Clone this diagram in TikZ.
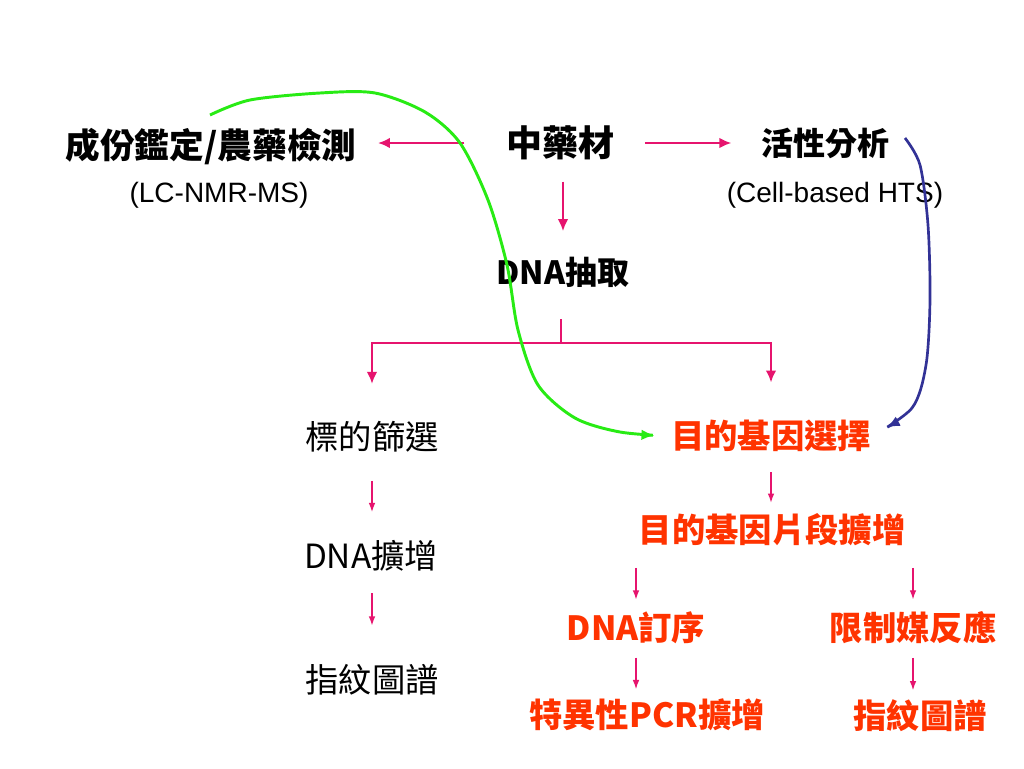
\documentclass[tikz,border=0pt]{standalone}
\usepackage{fontspec}
\usepackage{tikz}
\usetikzlibrary{arrows,arrows.meta,positioning,calc}
\setmainfont{Liberation Sans}
\newfontfamily\cjk{Noto Sans CJK TC}
\definecolor{arrowpink}{RGB}{230, 20, 110}
\definecolor{genered}{RGB}{255, 51, 0}
\definecolor{curvegreen}{RGB}{40, 235, 20}
\definecolor{curveblue}{RGB}{50, 50, 150}

\tikzset{
  bigarrow/.style={draw=arrowpink, line width=2.2pt, -{Latex[length=9pt,width=8pt]}},
  branchline/.style={draw=arrowpink, line width=2.2pt},
  smallarrow/.style={draw=arrowpink, line width=1.1pt, -{Latex[length=7pt,width=5pt]}},
  blacktxt/.style={inner sep=0pt, font=\cjk\fontsize{25}{28}\selectfont},
  boldtxt/.style={inner sep=0pt, font=\cjk\bfseries\fontsize{24}{28}\selectfont},
  redtxt/.style={inner sep=0pt, text=genered, font=\cjk\bfseries\fontsize{25}{28}\selectfont},
  methodtxt/.style={inner sep=0pt, font=\fontsize{21}{24}\selectfont},
  linkcurve/.style={line width=2.2pt, -{Latex[length=10pt,width=8pt]}},
}

\begin{document}
\begin{tikzpicture}[x=0.75pt, y=-0.75pt]
    \useasboundingbox[fill=white] (0,0) rectangle (1024,768);
    % top row
    \node[boldtxt, font=\cjk\bfseries\fontsize{27}{30}\selectfont] (herb) at (560,143) {中藥材};
    \node[boldtxt, font=\cjk\bfseries\fontsize{26}{30}\selectfont] (ident) at (211,147) {成份鑑定/農藥檢測};
    \node[methodtxt] (lcnmr) at (219,195) {(LC-NMR-MS)};
    \node[boldtxt] (activity) at (825,143) {活性分析};
    \node[methodtxt] (hts) at (835,195) {(Cell-based HTS)};
    \node[boldtxt] (extract) at (563,272) {DNA抽取};
    % left column
    \node[blacktxt] (screen) at (372,437) {標的篩選};
    \node[blacktxt] (dnaamp) at (371,556) {DNA擴增};
    \node[blacktxt] (printl) at (372,680) {指紋圖譜};
    % right column
    \node[redtxt] (select) at (771,436) {目的基因選擇};
    \node[redtxt] (fragamp) at (772,530) {目的基因片段擴增};
    \node[redtxt] (seq) at (636,628) {DNA訂序};
    \node[redtxt] (restr) at (913,628) {限制媒反應};
    \node[redtxt] (pcr) at (647,715) {特異性PCR擴增};
    \node[redtxt] (printr) at (920,716) {指紋圖譜};

    % main arrows
    \draw[bigarrow, shorten <=31pt, shorten >=16pt] (herb.west) -- (herb.west -| ident.east);
    \draw[bigarrow, shorten <=23pt, shorten >=22pt] (herb.east) -- (activity.west);
    \draw[bigarrow, shorten <=16pt, shorten >=19pt] (herb.south -| extract) -- (extract.north);
    \coordinate (fork) at (561,343);
    \draw[branchline, shorten <=24pt] (fork |- extract.south) -- (fork);
    \draw[bigarrow, shorten >=28pt] (fork) -| (screen.north);
    \draw[bigarrow, shorten >=28pt] (fork) -| (select.north);

    % small arrows
    \draw[smallarrow, shorten <=21pt, shorten >=21pt] (screen.south) -- (dnaamp.north -| screen);
    \draw[smallarrow, shorten <=16pt, shorten >=29pt] (dnaamp.south -| screen) -- (printl.north -| screen);
    \draw[smallarrow, shorten <=15pt, shorten >=8pt] (select.south) -- (fragamp.north -| select);
    \draw[smallarrow, shorten <=16pt, shorten >=9pt] (seq |- fragamp.south) -- (seq.north);
    \draw[smallarrow, shorten <=16pt, shorten >=9pt] (restr |- fragamp.south) -- (restr.north);
    \draw[smallarrow, shorten <=10pt, shorten >=7pt] (seq.south) -- (seq.south |- pcr.north);
    \draw[smallarrow, shorten <=10pt, shorten >=7pt] (restr.south) -- (restr.south |- printr.north);

    % curved links
    \coordinate (gstart) at (210,115);
    \coordinate (bstart) at (905,138);
    \draw[linkcurve, curvegreen, shorten >=12pt] plot[smooth] coordinates {(gstart) (250,100) (320,93) (375,93) (425,112) (460,143) (488,200) (507,265) (518,330) (538,385) (575,418) (620,432) (select.west)};
    \draw[linkcurve, curveblue, line width=2pt, shorten >=13pt] plot[smooth] coordinates {(bstart) (920,165) (928,225) (930,300) (926,365) (912,408) (select.east)};
\end{tikzpicture}
\end{document}
